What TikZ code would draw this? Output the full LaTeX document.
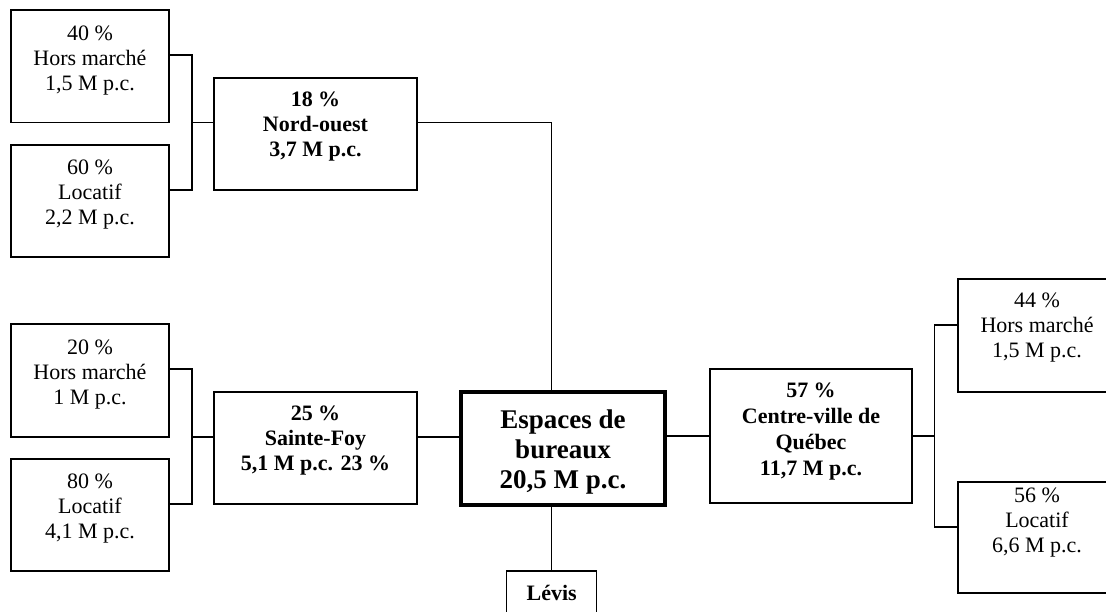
\documentclass[tikz,border=0pt]{standalone}
\usepackage{fontspec}
\setmainfont{Liberation Serif}
\newcommand{\stA}{\rule[-6pt]{0pt}{22pt}}
\newcommand{\stB}{\rule[-7pt]{0pt}{27pt}}
\tikzset{
  box/.style={draw, line width=1.3pt, rectangle, inner sep=0pt, outer sep=0pt},
  bigbox/.style={draw, line width=4pt, rectangle, inner sep=0pt, outer sep=0pt},
  txt/.style={align=center, inner sep=0pt, anchor=north, font=\fontsize{22}{25}\selectfont},
  btxt/.style={align=center, inner sep=0pt, anchor=north, font=\fontsize{22}{25}\selectfont\bfseries},
  cvtxt/.style={align=center, inner sep=0pt, anchor=north, font=\fontsize{22}{26}\selectfont\bfseries},
  ctxt/.style={align=center, inner sep=0pt, anchor=north, font=\fontsize{27}{30}\selectfont\bfseries},
  link/.style={line width=1.3pt}
}
\begin{document}
\begin{tikzpicture}[x=1pt,y=-1pt]
\useasboundingbox (0,0) rectangle (1106,612);
\clip (0,0) rectangle (1106,612);
% boxes
\node[box, minimum width=158pt, minimum height=112.5pt] (b1) at (90,66.25) {};
\node[box, minimum width=158pt, minimum height=112pt] (b2) at (90,201) {};
\node[box, minimum width=158pt, minimum height=113pt] (b3) at (90,380.5) {};
\node[box, minimum width=158pt, minimum height=112pt] (b4) at (90,515) {};
\node[box, minimum width=203pt, minimum height=112pt] (no) at (315.5,134) {};
\node[box, minimum width=203pt, minimum height=112pt] (sf) at (315.5,448) {};
\node[bigbox, minimum width=204.3pt, minimum height=113.3pt] (c) at (563,448.3) {};
\node[box, minimum width=202pt, minimum height=134pt] (cv) at (811,436) {};
\node[box, minimum width=158pt, minimum height=113pt] (r1) at (1037,335.5) {};
\node[box, minimum width=158pt, minimum height=111pt] (r2) at (1037,537.5) {};
\node[box, minimum width=90pt, minimum height=50pt] (lv) at (551.7,596) {};
% texts
\node[txt] (t1) at (90,24.5) {\stA 40 \%\\\stA Hors marché\\\stA 1,5 M p.c.};
\node[txt] (t2) at (90,158.5) {\stA 60 \%\\\stA Locatif\\\stA 2,2 M p.c.};
\node[txt] (t3) at (90,338) {\stA 20 \%\\\stA Hors marché\\\stA 1 M p.c.};
\node[txt] (t4) at (90,472.5) {\stA 80 \%\\\stA Locatif\\\stA 4,1 M p.c.};
\node[btxt] (tno) at (315.5,90.7) {\stA 18 \%\\\stA Nord-ouest\\\stA 3,7 M p.c.};
\node[btxt] (tsf) at (315.5,404.7) {\stA 25 \%\\\stA Sainte-Foy\\\stA 5,1 M p.c. 23 \%};
\node[ctxt] (tc) at (563,408.3) {\stB Espaces de\\\stB bureaux\\\stB 20,5 M p.c.};
\node[cvtxt] (tcv) at (811,381) {\stA 57 \%\\\stA Centre-ville de\\\stA Québec\\\stA 11,7 M p.c.};
\node[txt] (tr1) at (1037,291.5) {\stA 44 \%\\\stA Hors marché\\\stA 1,5 M p.c.};
\node[txt] (tr2) at (1037,486.5) {\stA 56 \%\\\stA Locatif\\\stA 6,6 M p.c.};
\node[btxt] (tlv) at (551.7,584) {\stA Lévis};
% connectors
\coordinate (j1) at (192,122.7);
\coordinate (j2) at (192,437);
\coordinate (j3) at (934.5,436);
\draw[link] ([yshift=11.25pt]b1.east) -| (j1) |- ([yshift=11pt]b2.east);
\draw[link] (j1) -- ([yshift=11.3pt]no.west);
\draw[link] ([yshift=11.3pt]no.east) -| (lv.north |- c.north);
\draw[link] (lv.north |- c.south) -- (lv.north);
\draw[link] ([yshift=11.5pt]b3.east) -| (j2) |- ([yshift=11pt]b4.east);
\draw[link] (j2) -- ([yshift=11pt]sf.west);
\draw[link] ([yshift=11pt]sf.east) -- (c.west |- j2);
\draw[link] (c.east |- cv.west) -- (cv.west);
\draw[link] (cv.east) -- (j3);
\draw[link] ([yshift=10.5pt]r1.west) -| (j3) |- ([yshift=10.5pt]r2.west);
\end{tikzpicture}
\end{document}
